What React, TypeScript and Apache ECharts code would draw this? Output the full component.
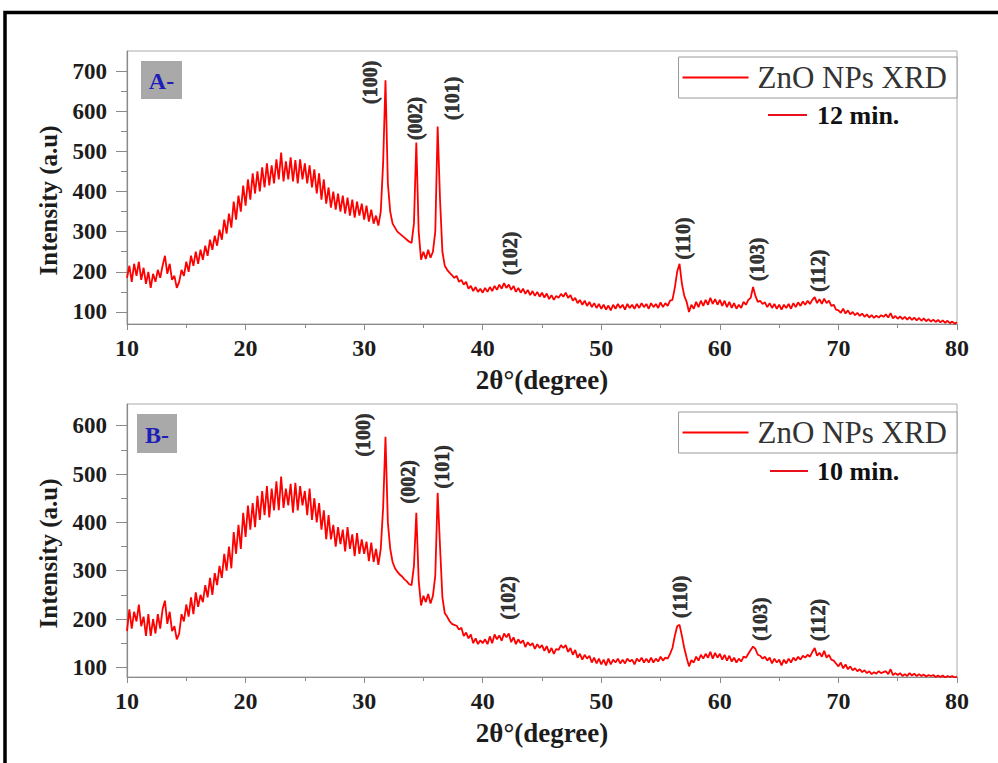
import React, { useEffect, useRef } from "react";
import * as echarts from "echarts";

// 2θ sampling grid: 10° to 80°, step 0.2°
const START = 10;
const STEP = 0.2;

// Panel A (12 min.) intensity values, one per 0.2° step
const intensityA = [
  185,215,175,220,190,225,180,210,170,200,
  160,195,175,205,185,215,240,195,220,180,
  190,160,175,205,190,225,200,240,215,250,
  220,255,230,265,240,280,255,290,265,305,
  280,330,295,345,310,375,330,390,350,415,
  365,430,380,445,395,450,400,460,410,470,
  415,465,420,480,430,497,425,475,430,485,
  425,478,420,480,430,470,420,465,410,455,
  395,445,380,430,370,410,360,400,355,395,
  350,390,345,385,340,380,335,375,340,370,
  330,365,325,355,320,340,315,350,470,677,
  420,350,320,310,300,295,290,285,280,275,
  272,320,522,300,230,250,232,255,235,250,
  300,562,380,250,215,205,198,192,185,190,
  175,180,168,175,158,165,152,162,150,158,
  148,160,150,162,152,165,155,168,158,172,
  160,168,155,165,150,160,148,158,145,155,
  142,152,140,150,138,148,136,146,132,142,
  130,140,135,145,138,148,135,142,128,135,
  122,130,118,128,115,125,112,122,110,120,
  108,118,106,116,104,118,108,120,110,118,
  106,120,110,118,108,120,110,122,112,120,
  108,122,112,120,110,124,112,122,115,128,
  130,160,200,220,170,140,125,100,118,108,
  125,112,128,115,130,118,135,120,132,118,
  130,115,128,112,125,110,122,108,118,110,
  125,118,130,135,162,140,125,128,120,124,
  112,122,110,120,108,118,106,118,110,120,
  108,122,112,124,115,126,118,128,120,130,
  137,122,132,120,133,122,128,115,118,106,
  104,98,108,96,104,94,100,92,98,90,
  96,88,94,86,92,85,91,86,92,88,
  94,86,97,84,90,83,89,82,88,81,
  87,80,86,79,85,78,84,77,82,76,
  81,75,80,74,79,73,78,72,76,71,
  74,
];

// Panel B (10 min.) intensity values, one per 0.2° step
const intensityB = [
  175,220,180,215,195,230,185,205,165,210,
  165,200,170,210,180,220,238,190,215,175,
  185,158,170,210,195,230,205,245,210,255,
  225,250,235,270,245,285,250,295,270,310,
  285,335,300,350,305,380,335,395,345,420,
  370,435,385,440,390,455,405,465,415,475,
  410,470,425,485,425,495,430,470,435,480,
  420,482,425,475,435,465,415,470,405,450,
  400,440,385,425,365,415,365,395,350,390,
  355,385,340,390,345,375,330,378,335,365,
  335,360,320,358,318,345,312,345,430,577,
  400,345,318,305,298,292,288,282,278,272,
  270,310,420,280,228,248,235,252,232,248,
  290,461,350,245,212,205,196,190,188,186,
  178,182,165,172,160,168,150,160,148,156,
  150,158,148,164,150,168,158,166,155,170,
  162,170,152,162,148,158,150,156,142,152,
  145,150,138,148,140,146,134,144,130,140,
  128,138,136,146,140,146,132,140,126,136,
  120,128,116,126,118,124,110,120,108,118,
  106,116,104,118,106,116,110,118,108,116,
  108,118,112,116,106,118,112,120,110,118,
  110,120,110,118,112,122,114,120,118,128,
  140,165,185,188,165,140,120,102,115,110,
  122,114,126,118,128,120,132,118,130,120,
  128,116,126,114,124,112,120,110,118,112,
  122,120,128,136,143,138,126,124,118,122,
  114,120,108,118,110,116,104,116,108,118,
  110,120,114,122,116,124,120,126,122,132,
  140,124,130,122,134,120,126,116,114,108,
  102,110,98,106,96,102,94,98,92,96,
  90,94,88,92,86,90,87,92,88,90,
  92,86,96,84,88,84,88,82,86,82,
  88,83,87,82,86,82,85,81,84,82,
  84,80,83,80,83,79,82,80,82,79,
  81,
];

// Peak (hkl) annotations
const peakNames = ["(100)", "(002)", "(101)", "(102)", "(110)", "(103)", "(112)"];
const peakLabelXA = [30.5, 34.3, 37.4, 42.3, 56.9, 63.1, 68.3];
const peakLabelYA = [672, 582, 632, 246, 283, 231, 203];
const peakLabelXB = [29.9, 33.7, 36.6, 42.1, 56.6, 63.4, 68.3];
const peakLabelYB = [581, 484, 515, 244, 246, 200, 198];

// Axis ticks
const xTicks = [10, 20, 30, 40, 50, 60, 70, 80];
const yTicksA = [100, 200, 300, 400, 500, 600, 700];
const yMinorA = [150, 250, 350, 450, 550, 650];
const yTicksB = [100, 200, 300, 400, 500, 600];
const yMinorB = [150, 250, 350, 450, 550];

const seriesName = "ZnO NPs XRD";
const timeA = "12 min.";
const timeB = "10 min.";

const SERIF = "'Liberation Serif', 'DejaVu Serif', serif";

export default function App() {
  const ref = useRef<HTMLDivElement>(null);

  useEffect(() => {
    if (!ref.current) return;
    const chart = echarts.init(ref.current, undefined, { renderer: "svg" });
    const toPairs = (vals: number[]) =>
      vals.map((v, i) => [+(START + i * STEP).toFixed(1), v]);
    const labelPts = (xs: number[], ys: number[]) =>
      xs.map((x, i) => ({ value: [x, ys[i]], name: peakNames[i] }));

    const axisCol = "#8a8a8a";
    const lblCol = "#1c1c1c";

    const xAxisBase = (gridIndex: number) => ({
      type: "value",
      gridIndex,
      min: 10,
      max: 80,
      interval: 10,
      axisLine: { show: true, lineStyle: { color: axisCol, width: 1.2 } },
      axisTick: { show: true, length: 6, lineStyle: { color: axisCol } },
      minorTick: { show: true, splitNumber: 2, length: 4, lineStyle: { color: axisCol } },
      splitLine: { show: false },
      axisLabel: {
        margin: 12,
        fontFamily: SERIF,
        fontWeight: "bold",
        fontSize: 24,
        color: lblCol,
        customValues: xTicks,
      },
      name: "2θ°(degree)",
      nameLocation: "middle",
      nameGap: 42,
      nameTextStyle: { fontFamily: SERIF, fontWeight: "bold", fontSize: 27, color: lblCol },
    });

    const yAxisMain = (gridIndex: number, min: number, max: number, ticks: number[]) => ({
      type: "value",
      gridIndex,
      min,
      max,
      axisLine: { show: true, lineStyle: { color: axisCol, width: 1.2 } },
      axisTick: { show: true, length: 11, customValues: ticks, lineStyle: { color: axisCol } },
      splitLine: { show: false },
      axisLabel: {
        margin: 20,
        fontFamily: SERIF,
        fontWeight: "bold",
        fontSize: 23,
        color: lblCol,
        customValues: ticks,
      },
      name: "Intensity (a.u)",
      nameLocation: "middle",
      nameGap: 66,
      nameTextStyle: {
        fontFamily: SERIF,
        fontWeight: "bold",
        fontSize: 25,
        color: lblCol,
        padding: [0, 26, 0, 0],
      },
    });

    const yAxisMinor = (gridIndex: number, min: number, max: number, ticks: number[]) => ({
      type: "value",
      gridIndex,
      min,
      max,
      position: "left",
      axisLine: { show: false },
      axisTick: { show: true, length: 6, customValues: ticks, lineStyle: { color: axisCol } },
      axisLabel: { show: false },
      splitLine: { show: false },
    });

    const lineSeries = (xi: number, yi: number, vals: number[]) => ({
      type: "line",
      name: seriesName,
      xAxisIndex: xi,
      yAxisIndex: yi,
      data: toPairs(vals),
      symbol: "none",
      showSymbol: false,
      lineStyle: { color: "#ff0000", width: 1.8 },
      itemStyle: { color: "#ff0000" },
      z: 3,
    });

    const labelSeries = (xi: number, yi: number, xs: number[], ys: number[]) => ({
      type: "scatter",
      xAxisIndex: xi,
      yAxisIndex: yi,
      data: labelPts(xs, ys),
      symbolSize: 1,
      itemStyle: { color: "rgba(0,0,0,0)" },
      silent: true,
      label: {
        show: true,
        position: "inside",
        rotate: 90,
        formatter: (p: any) => p.name,
        fontFamily: SERIF,
        fontWeight: 900,
        fontSize: 20,
        color: "#000",
        textBorderColor: "#111",
        textBorderWidth: 0.6,
      },
      z: 4,
    });

    const legendBase = (top: number) => ({
      show: true,
      right: 41,
      top,
      orient: "horizontal",
      itemWidth: 66,
      itemHeight: 2,
      itemGap: 0,
      padding: [5, 10, 5, 4],
      borderColor: "#999",
      borderWidth: 1,
      backgroundColor: "#fff",
      data: [{ name: seriesName, icon: "rect" }],
      selectedMode: false,
      textStyle: { fontFamily: SERIF, fontSize: 31, color: "#333", padding: [0, 0, 0, 4] },
    });

    const timeItem = (y: number, x1: number, x2: number, txt: string) => [
      {
        type: "line",
        shape: { x1, y1: y, x2, y2: y },
        style: { stroke: "#e8101a", lineWidth: 2.2 },
        z: 10,
      },
      {
        type: "text",
        x: 817,
        y,
        style: {
          text: txt,
          fontFamily: SERIF,
          fontWeight: "bold",
          fontSize: 26,
          fill: "#111",
          verticalAlign: "middle",
          align: "left",
        },
        z: 10,
      },
    ];

    const panelTag = (x: number, y: number, w: number, h: number, txt: string) => ({
      type: "group",
      x,
      y,
      z: 10,
      children: [
        { type: "rect", shape: { x: 0, y: 0, width: w, height: h }, style: { fill: "#a9a9a9" } },
        {
          type: "text",
          x: w / 2,
          y: h / 2 + 1,
          style: {
            text: txt,
            fontFamily: SERIF,
            fontWeight: "bold",
            fontSize: 24,
            fill: "#1f1fb8",
            align: "center",
            verticalAlign: "middle",
          },
        },
      ],
    });

    chart.setOption({
      animation: false,
      backgroundColor: "#ffffff",
      grid: [
        { left: 127, right: 41, top: 51, height: 273, show: true, borderColor: "#aaa", borderWidth: 1, containLabel: false },
        { left: 127, right: 41, top: 404, height: 273, show: true, borderColor: "#aaa", borderWidth: 1, containLabel: false },
      ],
      xAxis: [xAxisBase(0), xAxisBase(1)],
      yAxis: [
        yAxisMain(0, 70, 750, yTicksA),
        yAxisMinor(0, 70, 750, yMinorA),
        yAxisMain(1, 80, 645, yTicksB),
        yAxisMinor(1, 80, 645, yMinorB),
      ],
      legend: [legendBase(57), legendBase(412)],
      series: [
        lineSeries(0, 0, intensityA),
        lineSeries(1, 2, intensityB),
        labelSeries(0, 0, peakLabelXA, peakLabelYA),
        labelSeries(1, 2, peakLabelXB, peakLabelYB),
      ],
      graphic: [
        {
          type: "rect",
          shape: { x: 5, y: 12.5, width: 1100, height: 900 },
          style: { fill: "none", stroke: "#000", lineWidth: 3.5 },
          z: 20,
          silent: true,
        },
        panelTag(141, 61, 41, 38, "A-"),
        panelTag(137, 414, 40, 39, "B-"),
        ...timeItem(115, 768, 807, timeA),
        ...timeItem(471, 770, 808, timeB),
      ],
    });
    return () => chart.dispose();
  }, []);

  return (
    <div
      ref={ref}
      style={{ position: "fixed", left: 0, top: 0, width: 998, height: 763, background: "#fff" }}
    />
  );
}
